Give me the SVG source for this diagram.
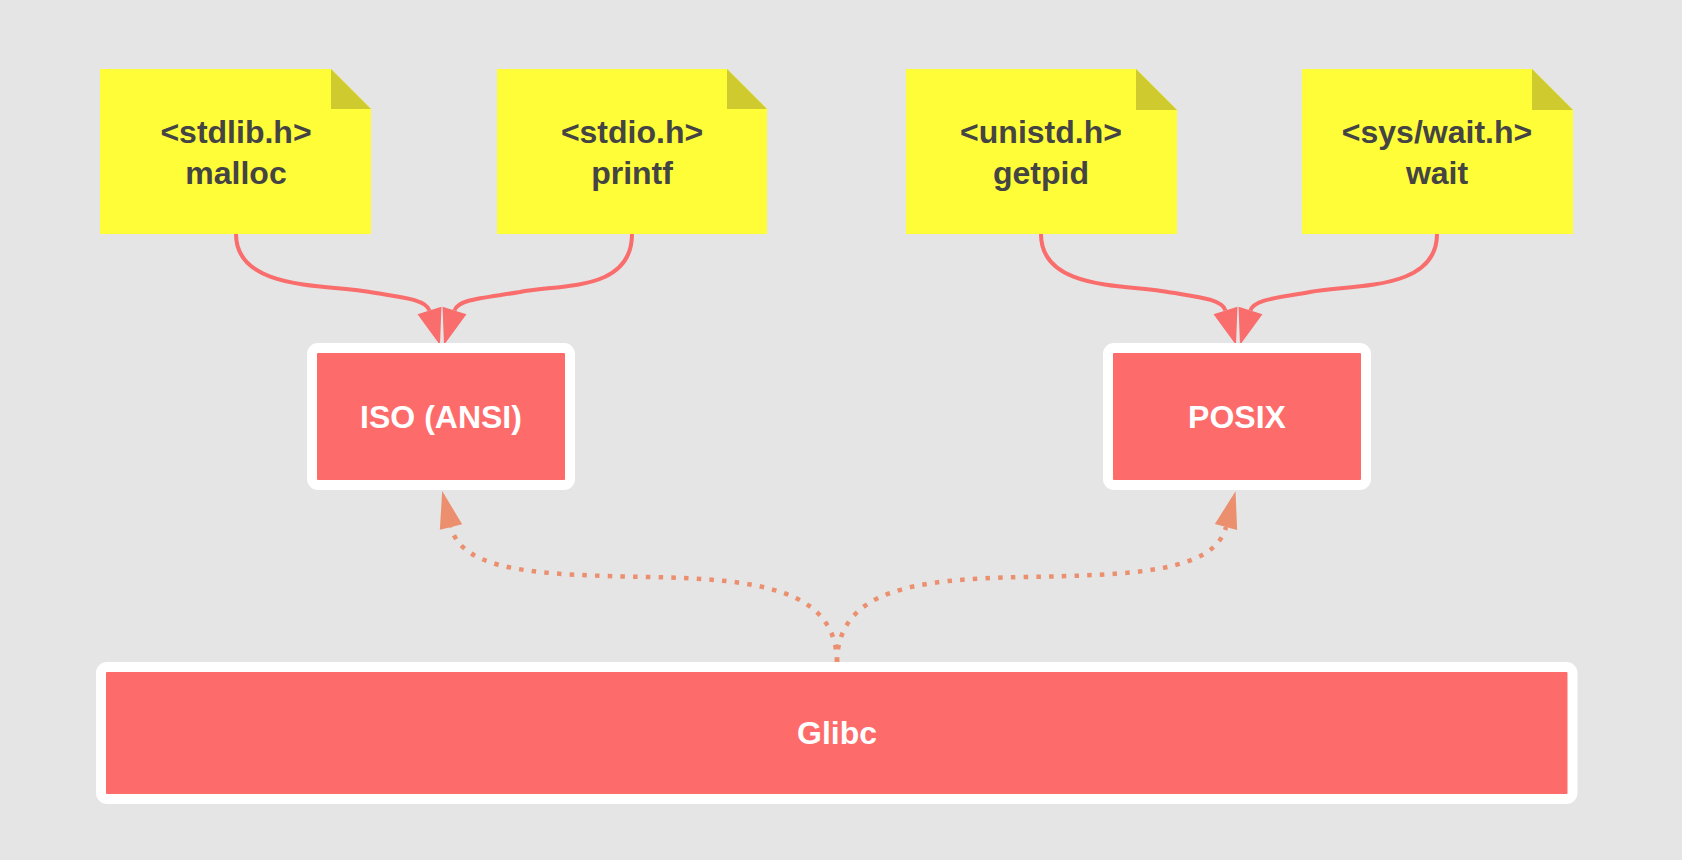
<svg xmlns="http://www.w3.org/2000/svg" width="1682" height="860" viewBox="0 0 1682 860">
<style>
.note{fill:#fffd38}
.fold{fill:#cfcb2e}
.nt{font-family:"Liberation Sans",Arial,sans-serif;font-weight:bold;font-size:32px;fill:#444;text-anchor:middle}
.box{fill:#fd6b6b;stroke:#fff;stroke-width:10}
.bt{font-family:"Liberation Sans",Arial,sans-serif;font-weight:bold;font-size:32px;fill:#fff;text-anchor:middle}
.solid{fill:none;stroke:#f96d6d;stroke-width:4;marker-end:url(#ah)}
.dot{fill:none;stroke:#eb8f6e;stroke-width:4.5;stroke-dasharray:4.5 8.2;marker-end:url(#dh)}
</style>
<defs>
<marker id="ah" markerUnits="userSpaceOnUse" markerWidth="40" markerHeight="30" refX="0" refY="12.5" orient="auto" overflow="visible">
<path d="M0,0 L36,12.5 L0,25 Z" fill="#f96d6d"/>
</marker>
<marker id="dh" markerUnits="userSpaceOnUse" markerWidth="40" markerHeight="30" refX="0" refY="11.5" orient="auto" overflow="visible">
<path d="M0,0 L37,11.5 L0,23 Z" fill="#eb8f6e"/>
</marker>
</defs>
<rect width="1682" height="860" fill="#e5e5e5"/>

<g id="connectors">
<path class="solid" d="M236,234 C236,292 330,284 370,292 C400,297 426,299 429.5,310.5"/>
<path class="solid" d="M632,234 C632,292 560,284 520,292 C484,298 458,299 454.5,310.5"/>
<path class="solid" d="M1041,234 C1041,292 1130,284 1168,292 C1198,297 1222,299 1225.5,310.5"/>
<path class="solid" d="M1437,234 C1437,292 1350,284 1310,292 C1278,298 1254,299 1250.5,310.5"/>
<path class="dot" d="M837,662 C836,590 760,579 650,577 C540,575 462,572 451,527"/>
<path class="dot" d="M837,662 C838,590 914,579 1024,577 C1134,575 1214,572 1226,527"/>
</g>

<g id="note-stdlib">
<path class="note" d="M100,69 H331 L371,109 V234 H100 Z"/>
<path class="fold" d="M331,69 L371,109 H331 Z"/>
<text class="nt" x="236" y="142.5">&lt;stdlib.h&gt;</text>
<text class="nt" x="236" y="183.5">malloc</text>
</g>
<g id="note-stdio">
<path class="note" d="M497,69 H727 L767,109 V234 H497 Z"/>
<path class="fold" d="M727,69 L767,109 H727 Z"/>
<text class="nt" x="632" y="142.5">&lt;stdio.h&gt;</text>
<text class="nt" x="632" y="183.5">printf</text>
</g>
<g id="note-unistd">
<path class="note" d="M906,69 H1136 L1177,110 V234 H906 Z"/>
<path class="fold" d="M1136,69 L1177,110 H1136 Z"/>
<text class="nt" x="1041" y="142.5">&lt;unistd.h&gt;</text>
<text class="nt" x="1041" y="183.5">getpid</text>
</g>
<g id="note-syswait">
<path class="note" d="M1302,69 H1532 L1573,110 V234 H1302 Z"/>
<path class="fold" d="M1532,69 L1573,110 H1532 Z"/>
<text class="nt" x="1437" y="142.5">&lt;sys/wait.h&gt;</text>
<text class="nt" x="1437" y="183.5">wait</text>
</g>

<g id="iso">
<rect class="box" x="312" y="348" width="258" height="137" rx="6"/>
<text class="bt" x="441" y="428">ISO (ANSI)</text>
</g>
<g id="posix">
<rect class="box" x="1108" y="348" width="258" height="137" rx="6"/>
<text class="bt" x="1237" y="428">POSIX</text>
</g>
<g id="glibc">
<rect class="box" x="101" y="667" width="1471.5" height="132" rx="6"/>
<text class="bt" x="837" y="744">Glibc</text>
</g>
</svg>
